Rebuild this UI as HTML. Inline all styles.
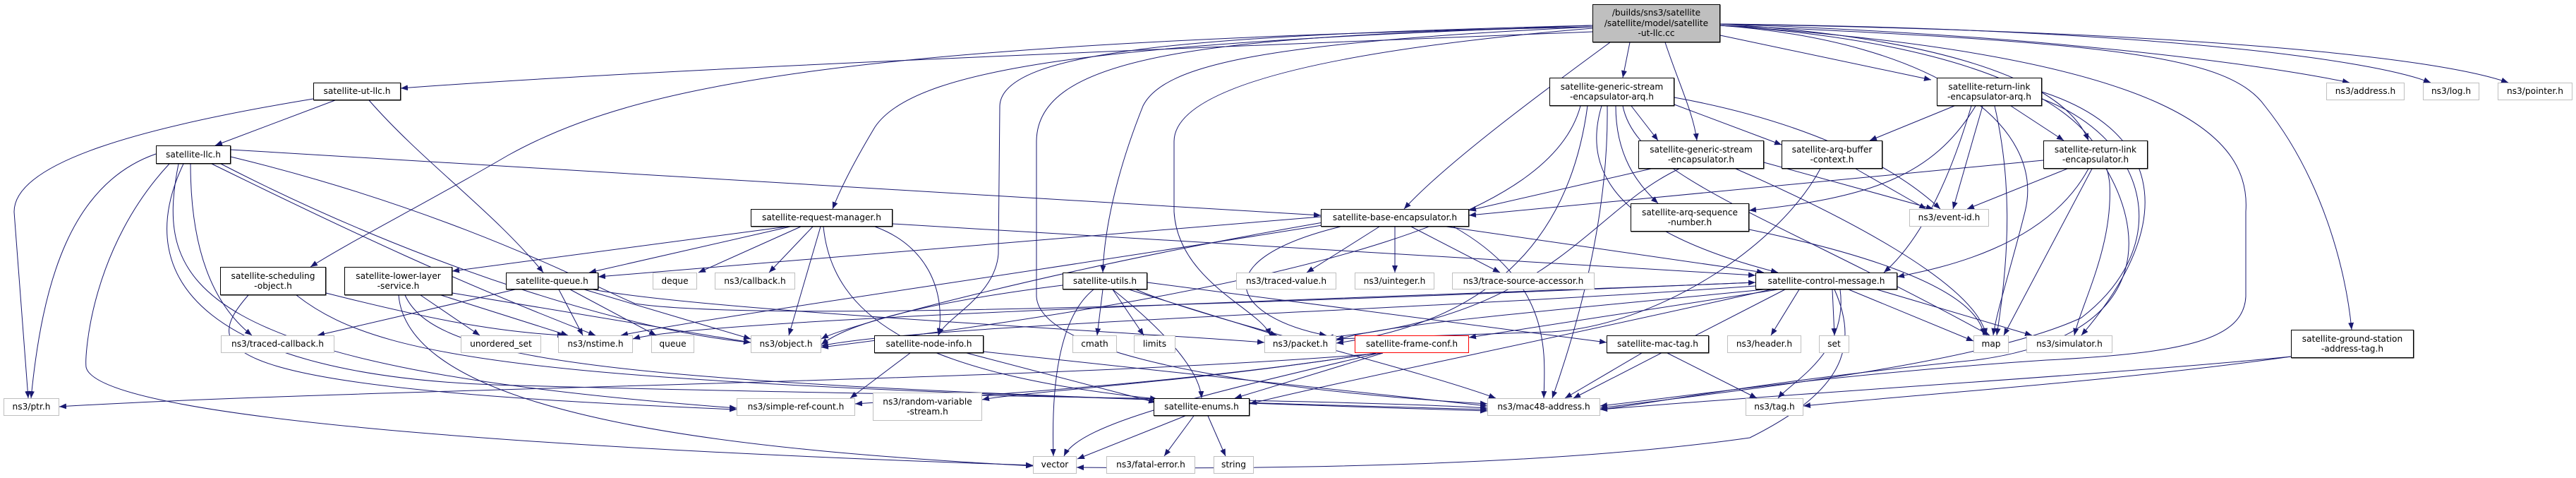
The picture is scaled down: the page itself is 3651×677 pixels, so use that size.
<!DOCTYPE html>
<html><head><meta charset="utf-8"><style>
html,body{margin:0;padding:0;background:#fff;}
#c{position:relative;width:3651px;height:677px;overflow:hidden;background:#fff;}
svg{position:absolute;left:0;top:0;}
.n{position:absolute;box-sizing:border-box;background:#fff;border:1px solid #000;display:flex;align-items:center;justify-content:center;text-align:center;font-family:"DejaVu Sans","Liberation Sans",sans-serif;font-size:12.2px;line-height:14.5px;color:#000;white-space:nowrap;box-shadow:0.5px 0.5px 0 #000;}
.g{border-color:#bfbfbf;box-shadow:none;}
.r{border-color:#ff0000;box-shadow:none;}
.root{background:#bfbfbf;}
</style></head><body><div id="c">
<svg width="3651" height="677" viewBox="0 0 3651 677">
<defs><marker id="a" markerWidth="10" markerHeight="8" refX="10" refY="4" orient="auto" markerUnits="userSpaceOnUse"><path d="M0,0 L10,4 L0,8 z" fill="#191970"/></marker></defs>
<g fill="none" stroke="#191970" stroke-width="1" marker-end="url(#a)">
<path d="M2257,45 C1500,75 900,100 568,125"/>
<path d="M2257,38 C1200,60 900,120 720,220 C600,290 500,340 440,378"/>
<path d="M2257,36 C1600,60 1300,90 1240,180 C1210,230 1190,270 1180,296"/>
<path d="M2257,36 C1700,50 1420,70 1417,150 L1415,360 C1410,420 1340,450 1330,475"/>
<path d="M2257,38 C1800,60 1650,90 1620,150 C1580,250 1565,330 1563,386"/>
<path d="M2257,40 C1900,70 1665,120 1664,200 L1664,300 C1670,400 1790,440 1800,475"/>
<path d="M2257,38 C1700,50 1470,80 1469,200 L1469,420 C1475,520 1900,560 2108,572"/>
<path d="M2282,60 C2200,120 2050,230 1990,296"/>
<path d="M2310,60 L2300,110"/>
<path d="M2360,60 C2380,120 2400,160 2405,199"/>
<path d="M2438,50 L2737,113"/>
<path d="M2438,34 C2700,50 2920,100 2960,199"/>
<path d="M2438,34 C2900,50 3200,90 3330,117"/>
<path d="M2438,34 C3000,40 3350,80 3445,117"/>
<path d="M2438,34 C3100,45 3450,80 3555,117"/>
<path d="M2438,36 C3000,60 3160,80 3210,150 C3290,250 3325,380 3333,467"/>
<path d="M2438,36 C2800,60 2980,150 2990,260 C2995,350 2950,430 2940,475"/>
<path d="M2438,36 C2750,60 2900,180 2870,300 C2850,380 2830,440 2825,475"/>
<path d="M2438,36 C3100,80 3190,200 3183,300 L3183,420 C3180,480 3100,500 2900,510 C2600,530 2400,560 2268,575"/>
<path d="M327,212 L1872,305"/>
<path d="M221,218 C100,260 60,400 44,564"/>
<path d="M270,232 C270,350 300,430 357,475"/>
<path d="M253,232 C220,400 260,520 1044,578"/>
<path d="M240,232 C130,350 120,500 122,520 C140,600 900,640 1464,659"/>
<path d="M313,232 C600,380 900,470 1064,485"/>
<path d="M327,222 C650,300 850,410 900,430 C1100,460 2000,420 2488,400"/>
<path d="M260,232 C180,400 300,530 700,545 C1200,560 1900,565 2108,578"/>
<path d="M300,232 C500,330 650,400 844,475"/>
<path d="M475,142 L305,206"/>
<path d="M444,140 C200,180 20,230 20,300 L40,564"/>
<path d="M523,142 C600,230 700,300 770,386"/>
<path d="M1115,321 L641,384"/>
<path d="M1120,321 L835,386"/>
<path d="M1135,321 L990,386"/>
<path d="M1152,321 L1090,386"/>
<path d="M1163,321 L1118,475"/>
<path d="M1240,321 C1320,350 1340,420 1330,475"/>
<path d="M1265,317 L2488,390"/>
<path d="M1167,321 C1180,450 1300,530 1640,565"/>
<path d="M462,415 C600,450 700,470 800,475"/>
<path d="M352,418 C280,500 300,550 1044,580"/>
<path d="M420,418 C550,520 800,545 2108,580"/>
<path d="M596,418 L680,475"/>
<path d="M625,418 L805,475"/>
<path d="M641,415 L1064,485"/>
<path d="M565,418 C580,600 1100,640 1464,660"/>
<path d="M574,418 C620,520 900,545 2108,582"/>
<path d="M730,410 L450,475"/>
<path d="M792,410 L826,475"/>
<path d="M808,410 L930,475"/>
<path d="M828,410 L1064,480"/>
<path d="M840,410 C1000,440 1600,470 1792,485"/>
<path d="M1872,307 L848,392"/>
<path d="M1875,315 C1500,380 1200,460 1164,480"/>
<path d="M1880,318 C1500,380 1000,450 880,475"/>
<path d="M1955,321 L1852,386"/>
<path d="M1977,321 L1977,386"/>
<path d="M2000,321 L2126,386"/>
<path d="M2050,321 L2500,386"/>
<path d="M1900,321 C1700,370 1750,450 1880,475"/>
<path d="M2060,321 C2200,400 2190,500 2188,564"/>
<path d="M1563,410 L1555,475"/>
<path d="M1577,410 L1621,475"/>
<path d="M1550,410 C1500,450 1490,550 1493,646"/>
<path d="M1577,410 C1640,460 1700,520 1703,564"/>
<path d="M1600,410 L1810,475"/>
<path d="M1610,410 C1700,450 2000,520 2120,564"/>
<path d="M1626,400 L2277,485"/>
<path d="M1506,404 C1300,430 1200,460 1164,488"/>
<path d="M1290,500 L1205,564"/>
<path d="M1370,500 L1638,570"/>
<path d="M1394,498 L2108,575"/>
<path d="M1955,500 C1700,560 1530,600 1508,646"/>
<path d="M1960,500 L1750,564"/>
<path d="M1950,500 C1700,540 1400,560 1212,572"/>
<path d="M1950,500 C1700,540 1450,555 1392,566"/>
<path d="M1960,500 C1500,540 500,550 84,576"/>
<path d="M2363,500 L2490,564"/>
<path d="M2327,500 L2218,564"/>
<path d="M1680,589 L1527,650"/>
<path d="M1692,589 L1650,646"/>
<path d="M1712,589 L1737,646"/>
<path d="M2550,410 L2510,475"/>
<path d="M2597,410 L2600,475"/>
<path d="M2620,410 L2797,483"/>
<path d="M2660,410 L2880,475"/>
<path d="M2488,405 C2000,440 1300,460 1164,490"/>
<path d="M2488,400 C2000,420 1000,450 897,480"/>
<path d="M2500,410 C2200,440 1950,460 1894,482"/>
<path d="M2520,410 L2082,478"/>
<path d="M2530,410 L2230,564"/>
<path d="M2510,410 C2200,480 1900,540 1771,572"/>
<path d="M2600,410 C2640,500 2600,560 2480,620 C2200,660 1800,665 1526,662"/>
<path d="M2608,410 C2620,500 2540,540 2520,564"/>
<path d="M2312,150 L2350,199"/>
<path d="M2373,148 L2525,205"/>
<path d="M2373,138 C2550,170 2680,230 2750,296"/>
<path d="M2290,150 C2290,220 2320,260 2350,288"/>
<path d="M2270,150 C2240,250 2300,330 2520,386"/>
<path d="M2300,150 C2320,250 2500,300 2820,475"/>
<path d="M2250,150 C2230,300 2150,450 1894,486"/>
<path d="M2278,150 C2280,300 2240,450 2200,564"/>
<path d="M2240,150 C2200,300 1900,400 1164,492"/>
<path d="M2340,239 L2082,298"/>
<path d="M2500,230 L2740,296"/>
<path d="M2460,239 C2600,300 2800,400 2815,475"/>
<path d="M2380,239 C2250,300 2200,450 1880,478"/>
<path d="M2630,239 L2730,296"/>
<path d="M2580,239 C2520,350 2350,460 2200,470 L1894,480"/>
<path d="M2770,150 L2650,199"/>
<path d="M2810,150 L2768,296"/>
<path d="M2800,150 C2740,250 2650,280 2479,298"/>
<path d="M2827,150 C2850,250 2850,350 2830,475"/>
<path d="M2850,150 L2925,199"/>
<path d="M2794,150 C2750,300 2700,360 2670,386"/>
<path d="M2894,140 C3050,200 3080,350 2950,450 C2800,520 2400,560 2268,578"/>
<path d="M2894,130 C3050,180 3100,300 2950,475"/>
<path d="M2896,227 L2082,305"/>
<path d="M2930,239 L2788,296"/>
<path d="M2960,239 C2900,350 2750,380 2689,392"/>
<path d="M2965,239 L2840,475"/>
<path d="M2985,239 C3050,350 3030,480 2800,510 C2500,540 2350,570 2268,580"/>
<path d="M2479,325 C2600,350 2800,400 2812,475"/>
<path d="M3247,505 C3000,540 2700,560 2556,575"/>
<path d="M3247,505 C3000,530 2500,560 2268,580"/>
</g>
</svg>
<div class="n root" style="left:2257px;top:6px;width:181px;height:54px;">/builds/sns3/satellite<br>/satellite/model/satellite<br>-ut-llc.cc</div>
<div class="n" style="left:444px;top:117px;width:124px;height:25px;">satellite-ut-llc.h</div>
<div class="n" style="left:221px;top:206px;width:106px;height:26px;">satellite-llc.h</div>
<div class="n" style="left:1064px;top:296px;width:201px;height:25px;">satellite-request-manager.h</div>
<div class="n" style="left:312px;top:378px;width:150px;height:40px;">satellite-scheduling<br>-object.h</div>
<div class="n" style="left:488px;top:378px;width:153px;height:40px;">satellite-lower-layer<br>-service.h</div>
<div class="n" style="left:717px;top:386px;width:131px;height:24px;">satellite-queue.h</div>
<div class="n g" style="left:925px;top:386px;width:63px;height:24px;">deque</div>
<div class="n g" style="left:1013px;top:386px;width:114px;height:24px;">ns3/callback.h</div>
<div class="n g" style="left:313px;top:475px;width:161px;height:25px;">ns3/traced-callback.h</div>
<div class="n g" style="left:653px;top:475px;width:114px;height:25px;">unordered_set</div>
<div class="n g" style="left:791px;top:475px;width:106px;height:25px;">ns3/nstime.h</div>
<div class="n g" style="left:923px;top:475px;width:61px;height:25px;">queue</div>
<div class="n g" style="left:1064px;top:475px;width:100px;height:25px;">ns3/object.h</div>
<div class="n g" style="left:5px;top:564px;width:79px;height:25px;">ns3/ptr.h</div>
<div class="n g" style="left:1044px;top:564px;width:168px;height:25px;">ns3/simple-ref-count.h</div>
<div class="n" style="left:2196px;top:110px;width:177px;height:40px;">satellite-generic-stream<br>-encapsulator-arq.h</div>
<div class="n" style="left:2322px;top:199px;width:178px;height:40px;">satellite-generic-stream<br>-encapsulator.h</div>
<div class="n" style="left:2311px;top:288px;width:168px;height:40px;">satellite-arq-sequence<br>-number.h</div>
<div class="n" style="left:1872px;top:296px;width:210px;height:25px;">satellite-base-encapsulator.h</div>
<div class="n" style="left:1506px;top:386px;width:120px;height:24px;">satellite-utils.h</div>
<div class="n g" style="left:1752px;top:386px;width:142px;height:24px;">ns3/traced-value.h</div>
<div class="n g" style="left:1920px;top:386px;width:113px;height:24px;">ns3/uinteger.h</div>
<div class="n g" style="left:2058px;top:386px;width:202px;height:24px;">ns3/trace-source-accessor.h</div>
<div class="n" style="left:1239px;top:475px;width:155px;height:25px;">satellite-node-info.h</div>
<div class="n g" style="left:1520px;top:475px;width:63px;height:25px;">cmath</div>
<div class="n g" style="left:1607px;top:475px;width:59px;height:25px;">limits</div>
<div class="n g" style="left:1792px;top:475px;width:102px;height:25px;">ns3/packet.h</div>
<div class="n r" style="left:1920px;top:475px;width:162px;height:25px;">satellite-frame-conf.h</div>
<div class="n" style="left:2277px;top:475px;width:145px;height:25px;">satellite-mac-tag.h</div>
<div class="n g" style="left:1237px;top:556px;width:155px;height:40px;">ns3/random-variable<br>-stream.h</div>
<div class="n" style="left:1635px;top:564px;width:136px;height:25px;">satellite-enums.h</div>
<div class="n g" style="left:2108px;top:564px;width:160px;height:25px;">ns3/mac48-address.h</div>
<div class="n g" style="left:1464px;top:646px;width:62px;height:25px;">vector</div>
<div class="n g" style="left:1568px;top:646px;width:126px;height:25px;">ns3/fatal-error.h</div>
<div class="n g" style="left:1720px;top:646px;width:57px;height:25px;">string</div>
<div class="n" style="left:2745px;top:110px;width:149px;height:40px;">satellite-return-link<br>-encapsulator-arq.h</div>
<div class="n g" style="left:3297px;top:117px;width:111px;height:25px;">ns3/address.h</div>
<div class="n g" style="left:3434px;top:117px;width:80px;height:25px;">ns3/log.h</div>
<div class="n g" style="left:3540px;top:117px;width:106px;height:25px;">ns3/pointer.h</div>
<div class="n" style="left:2525px;top:199px;width:143px;height:40px;">satellite-arq-buffer<br>-context.h</div>
<div class="n" style="left:2896px;top:199px;width:148px;height:40px;">satellite-return-link<br>-encapsulator.h</div>
<div class="n g" style="left:2706px;top:296px;width:113px;height:25px;">ns3/event-id.h</div>
<div class="n" style="left:2488px;top:386px;width:201px;height:24px;">satellite-control-message.h</div>
<div class="n g" style="left:2448px;top:475px;width:105px;height:25px;">ns3/header.h</div>
<div class="n g" style="left:2578px;top:475px;width:43px;height:25px;">set</div>
<div class="n g" style="left:2797px;top:475px;width:50px;height:25px;">map</div>
<div class="n g" style="left:2872px;top:475px;width:122px;height:25px;">ns3/simulator.h</div>
<div class="n" style="left:3247px;top:467px;width:174px;height:40px;">satellite-ground-station<br>-address-tag.h</div>
<div class="n g" style="left:2474px;top:564px;width:82px;height:25px;">ns3/tag.h</div>
</div></body></html>
